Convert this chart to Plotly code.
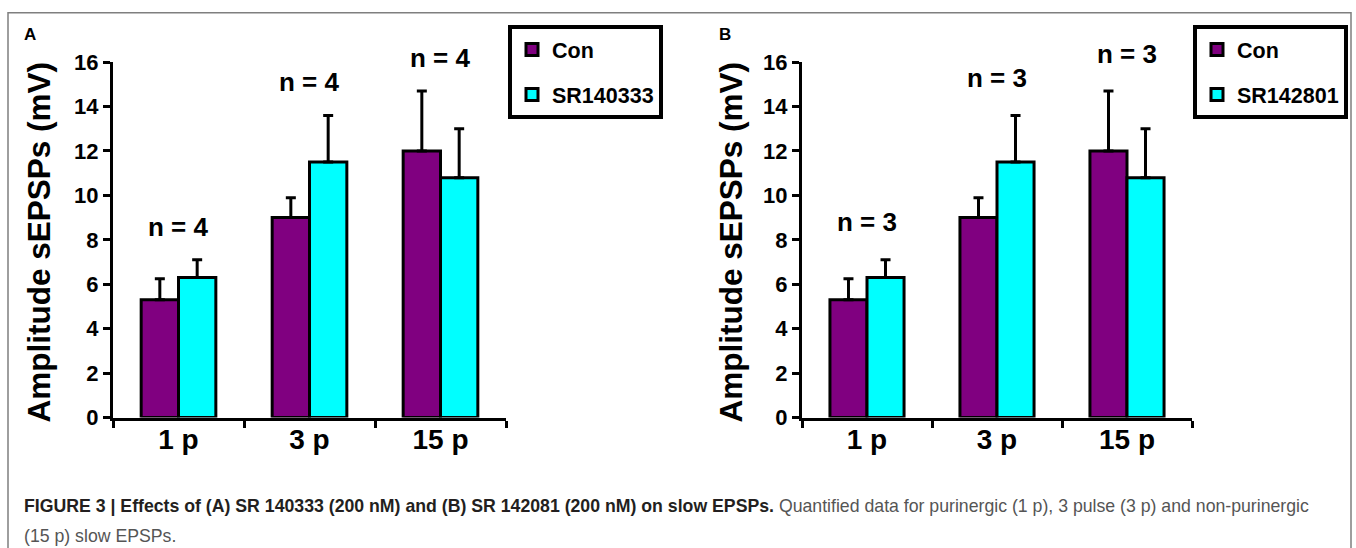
import plotly.graph_objects as go

# ---------------- data ----------------
categories = ["1 p", "3 p", "15 p"]

con_a = [5.3, 9.0, 12.0]
con_a_err = [0.95, 0.9, 2.7]
sr_a = [6.3, 11.5, 10.8]
sr_a_err = [0.8, 2.1, 2.2]
n_a = ["n = 4", "n = 4", "n = 4"]

con_b = [5.3, 9.0, 12.0]
con_b_err = [0.95, 0.9, 2.7]
sr_b = [6.3, 11.5, 10.8]
sr_b_err = [0.8, 2.1, 2.2]
n_b = ["n = 3", "n = 3", "n = 3"]

series_names_a = ["Con", "SR140333"]
series_names_b = ["Con", "SR142801"]
y_ticks = [0, 2, 4, 6, 8, 10, 12, 14, 16]
y_title = "Amplitude sEPSPs (mV)"
caption_bold = "FIGURE 3 | Effects of (A) SR 140333 (200 nM) and (B) SR 142081 (200 nM) on slow EPSPs."
caption_rest_1 = " Quantified data for purinergic (1 p), 3 pulse (3 p) and non-purinergic"
caption_line_2 = "(15 p) slow EPSPs."

# ---------------- style ----------------
W, H = 1356, 574
PURPLE = "#800080"
CYAN = "#00FFFF"
FONT = "Liberation Sans, Arial, sans-serif"


def px_x(v):
    return v / W


def px_y(r):
    # r: wanted row in the final picture -> paper fraction of the page
    p = (r - 12.0) / 0.954
    return 1 - p / H


fig = go.Figure()


def add_panel(xa, ya, legend, cons, cons_err, srs, srs_err, names):
    for vals, errs, color, name in [(cons, cons_err, PURPLE, names[0]),
                                    (srs, srs_err, CYAN, names[1])]:
        fig.add_trace(go.Bar(
            x=categories, y=vals, name=name,
            xaxis=xa, yaxis=ya, legend=legend, legendgroup=legend + name,
            marker=dict(color=color, line=dict(color="black", width=3)),
            error_y=dict(type="data", symmetric=False, array=errs,
                         arrayminus=[0] * len(errs), color="black",
                         thickness=3, width=5),
            hoverinfo="skip",
        ))


add_panel("x", "y", "legend", con_a, con_a_err, sr_a, sr_a_err, series_names_a)
add_panel("x2", "y2", "legend2", con_b, con_b_err, sr_b, sr_b_err, series_names_b)

axis_common_y = dict(
    range=[0, 16], tickvals=y_ticks, ticks="outside", ticklen=7, tickwidth=3,
    tickcolor="black", showline=True, linewidth=3, linecolor="black",
    showgrid=False, zeroline=False,
    tickfont=dict(family=FONT, size=22, color="black", weight="bold"),
)
axis_common_x = dict(
    type="category", tickson="boundaries", ticks="outside", ticklen=7,
    tickwidth=3, tickcolor="black", showline=True, linewidth=3,
    linecolor="black", showgrid=False, zeroline=False,
    tickfont=dict(family=FONT, size=28, color="black", weight="bold"),
)

legend_common = dict(
    xanchor="left", yanchor="top", bordercolor="black", borderwidth=4,
    bgcolor="white", tracegroupgap=14, itemclick=False,
    font=dict(family=FONT, size=21.5, color="black", weight="bold"),
)

fig.update_layout(
    width=W, height=H, margin=dict(l=0, r=0, t=0, b=0),
    paper_bgcolor="white", plot_bgcolor="white",
    barmode="group", bargap=0.43, bargroupgap=0,
    showlegend=True,
    xaxis=dict(domain=[px_x(113), px_x(506)], anchor="y", **axis_common_x),
    yaxis=dict(domain=[px_y(416.5), px_y(62)], anchor="x", **axis_common_y),
    xaxis2=dict(domain=[px_x(802), px_x(1192)], anchor="y2", **axis_common_x),
    yaxis2=dict(domain=[px_y(416.5), px_y(62)], anchor="x2", **axis_common_y),
    legend=dict(x=px_x(508), y=px_y(25), **legend_common),
    legend2=dict(x=px_x(1193), y=px_y(25), **legend_common),
)
try:
    fig.update_xaxes(ticklabelstandoff=-5)
except Exception:
    pass

annotations = []

for xa, ya, cons, ce, srs, se, labels, shift in [
        ("x", "y", con_a, con_a_err, sr_a, sr_a_err, n_a, 33),
        ("x2", "y2", con_b, con_b_err, sr_b, sr_b_err, n_b, 37.5)]:
    for i, cat in enumerate(categories):
        top = max(cons[i] + ce[i], srs[i] + se[i])
        annotations.append(dict(
            x=cat, y=top, xref=xa, yref=ya, text=labels[i], showarrow=False,
            yshift=shift, yanchor="middle", xanchor="center",
            font=dict(family=FONT, size=26, color="black", weight="bold"),
        ))

for xc in (39, 731):
    annotations.append(dict(
        x=px_x(xc), y=px_y(242), xref="paper", yref="paper", text=y_title,
        textangle=-90, showarrow=False, xanchor="center", yanchor="middle",
        font=dict(family=FONT, size=31.5, color="black", weight="bold"),
    ))

for letter, xc in (("A", 30), ("B", 725)):
    annotations.append(dict(
        x=px_x(xc), y=px_y(34), xref="paper", yref="paper", text=letter,
        showarrow=False, xanchor="center", yanchor="middle",
        font=dict(family=FONT, size=17, color="black", weight="bold"),
    ))

annotations.append(dict(
    x=px_x(22), y=px_y(505), xref="paper", yref="paper", showarrow=False,
    xanchor="left", yanchor="middle", align="left",
    text="<b>" + caption_bold + "</b><span style='color:#555555'>" + caption_rest_1 + "</span>",
    font=dict(family=FONT, size=17.7, color="#231f20"),
))
annotations.append(dict(
    x=px_x(22), y=px_y(535), xref="paper", yref="paper", showarrow=False,
    xanchor="left", yanchor="middle", align="left",
    text=caption_line_2, font=dict(family=FONT, size=17.7, color="#555555"),
))

fig.update_layout(annotations=annotations)

# outer frame (open at the bottom, as in the reference)
fig.add_shape(type="rect", xref="paper", yref="paper",
              x0=px_x(8), x1=px_x(1351), y0=-0.05, y1=1 - 0.8 / H,
              line=dict(color="#7f7f7f", width=1.5), fillcolor="rgba(0,0,0,0)",
              layer="below")

fig.write_html(
    "out.html",
    config={"displayModeBar": False},
    post_script="document.body.style.margin='0';document.body.style.overflow='hidden';",
)
